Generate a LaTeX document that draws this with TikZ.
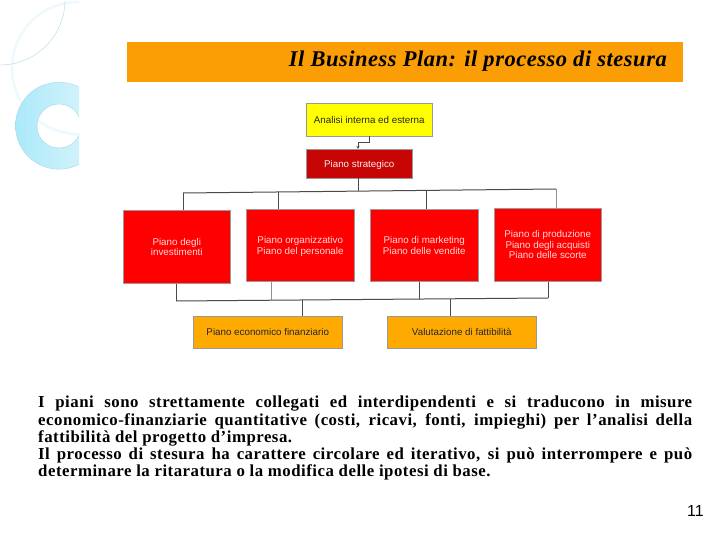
\documentclass[tikz,border=0pt]{standalone}
\usepackage{fontspec}
\setmainfont{Liberation Serif}
\setsansfont{Liberation Sans}
\usetikzlibrary{arrows.meta,calc}
\definecolor{hdr}{HTML}{FB9E06}
\definecolor{ylw}{HTML}{FFFF00}
\definecolor{dkred}{HTML}{C80505}
\definecolor{rd}{HTML}{FF0000}
\definecolor{org}{HTML}{FFAA00}
\definecolor{lnk}{HTML}{4A4A4A}
\definecolor{ringa}{HTML}{ABE9F9}
\definecolor{ringb}{HTML}{DDF6FC}
\definecolor{ringe}{HTML}{A8D8E4}
\definecolor{faint}{HTML}{EDF9FC}
\tikzset{
  chartbox/.style={draw=black!40,line width=.5pt,inner sep=0pt,align=center,text depth=0pt,font=\sffamily\fontsize{9.8}{10.5}\selectfont,anchor=north west},
  yellowbox/.style={chartbox,fill=ylw,text=black!85},
  darkbox/.style={chartbox,fill=dkred,text=white!92!red},
  redbox/.style={chartbox,fill=rd,text=white!85!red},
  orangebox/.style={chartbox,fill=org,text=black!85},
  link/.style={draw=lnk,line width=1pt},
}
\begin{document}
\begin{tikzpicture}[x=1pt,y=-1pt]
\useasboundingbox (0,0) rectangle (720,540);
% decoration
\begin{scope}
\clip (0,0) rectangle (79,180);
\draw[faint,line width=2.5pt] (78,68) circle (66);
\shade[even odd rule,left color=ringa,right color=ringb,draw=ringe,line width=.4pt]
  (59,125.7) circle (43.5) (59,126) circle (22);
\draw[faint,line width=2pt] (42,123) .. controls (52,129) and (66,134) .. (79,135);
\draw[ringe,line width=.4pt] (0,0) circle (65);
\end{scope}
% header
\fill[hdr] (127,42) rectangle (683,82);
\node[anchor=east,inner sep=0pt,font=\itshape\bfseries\fontsize{22.5}{24}\selectfont\addfontfeature{LetterSpace=2.3}] (title) at (667,61.5) {Il Business Plan: il processo di stesura};
% boxes
\node[yellowbox,minimum width=126pt,minimum height=32.5pt] (a) at (306,103.5) {Analisi interna ed esterna};
\node[darkbox,minimum width=106pt,minimum height=29pt] (s) at (306,149) {Piano strategico};
\node[redbox,minimum width=107pt,minimum height=73pt] (r1) at (123,210) {Piano degli\\investimenti};
\node[redbox,minimum width=108pt,minimum height=72pt] (r2) at (246,209) {Piano organizzativo\\Piano del personale};
\node[redbox,minimum width=108pt,minimum height=72pt] (r3) at (370,209) {Piano di marketing\\Piano delle vendite};
\node[redbox,minimum width=107pt,minimum height=73pt] (r4) at (494,208) {Piano di produzione\\Piano degli acquisti\\Piano delle scorte};
\node[orangebox,minimum width=149pt,minimum height=32pt] (o1) at (193,316) {Piano economico finanziario};
\node[orangebox,minimum width=149pt,minimum height=32pt] (o2) at (387,316) {Valutazione di fattibilità};
% connectors
\coordinate (k1) at (369,143);
\coordinate (k2) at (358,143);
\draw[link,-{Stealth[length=3pt,width=3pt]}] (k1 |- a.south) -- (k1) -- (k2) -- (k2 |- s.north);
\coordinate (t1) at (183,193);
\coordinate (t2) at (278,192);
\coordinate (t3) at (358,191);
\coordinate (t4) at (426,190);
\coordinate (t5) at (556,189);
\draw[link] (t1) -- (t5);
\draw[link] (t3 |- s.south) -- (t3);
\draw[link] (t1) -- (t1 |- r1.north);
\draw[link] (t2) -- (t2 |- r2.north);
\draw[link] (t4) -- (t4 |- r3.north);
\draw[link,draw=lnk!60] (t5) -- (t5 |- r4.north);
\coordinate (b1) at (176,301);
\coordinate (b2) at (271,300.4);
\coordinate (b3) at (302,300.2);
\coordinate (b4) at (419,299.4);
\coordinate (b5) at (450,299);
\coordinate (b6) at (548,298);
\draw[link] (b1) -- (b6);
\draw[link] (b1 |- r1.south) -- (b1);
\draw[link,draw=lnk!60] (b2 |- r2.south) -- (b2);
\draw[link] (b4 |- r3.south) -- (b4);
\draw[link] (b6 |- r4.south) -- (b6);
\draw[link] (b3) -- (b3 |- o1.north);
\draw[link] (b5) -- (b5 |- o2.north);
% body text
\node[anchor=north west,inner sep=0pt,font=\bfseries\fontsize{16.8}{17.2}\selectfont\addfontfeature{LetterSpace=3}] (body) at (38,396) {\vbox{\baselineskip=17.2pt\lineskiplimit=-20pt
\hbox to 654pt{I piani sono strettamente collegati ed interdipendenti e si traducono in misure}
\hbox to 654pt{economico-finanziarie quantitative (costi, ricavi, fonti, impieghi) per l’analisi della}
\hbox{fattibilità del progetto d’impresa.}
\hbox to 654pt{Il processo di stesura ha carattere circolare ed iterativo, si può interrompere e può}
\hbox{determinare la ritaratura o la modifica delle ipotesi di base.}}};
\node[anchor=east,inner sep=0pt,font=\sffamily\fontsize{16}{18}\selectfont] (page) at (704,511) {11};
\end{tikzpicture}
\end{document}
